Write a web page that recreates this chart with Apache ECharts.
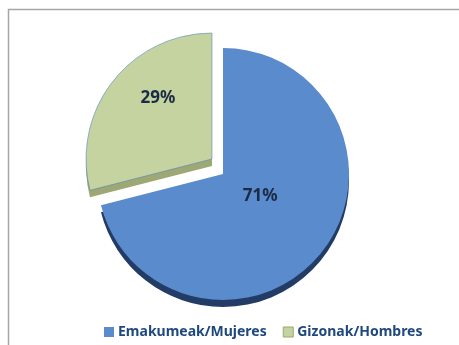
<!DOCTYPE html>
<html>
<head>
<meta charset="utf-8">
<script src="https://cdn.jsdelivr.net/npm/echarts@6/dist/echarts.min.js"></script>
<style>
  html, body { margin: 0; padding: 0; background: #ffffff; }
  #chart { width: 459px; height: 345px; }
</style>
</head>
<body>
<div id="chart"></div>
<script>
// Share of people by sex (percent)
const categories = ['Emakumeak/Mujeres', 'Gizonak/Hombres'];
const shares = [71, 29];
const topColors = ['#5a8bcc', '#c4d39f'];
const sideColors = ['#223c66', '#9ea874'];

const chart = echarts.init(document.getElementById('chart'), null, { renderer: 'canvas' });

// Each slice is drawn by its own layer so the pulled-out slice can sit on its own centre.
const pieCenter = [223, 174];
const pullOut = [[0, 0], [-11, -15]];
const depth = 7;
const R = 126;
const labelShift = [{ dx: -15, dy: -18 }, { dx: -2, dy: -20 }];

function sliceLayer(idx, colors, dy, z, withLabel) {
  return {
    type: 'pie',
    z: z,
    silent: true,
    center: [pieCenter[0] + pullOut[idx][0], pieCenter[1] + pullOut[idx][1] + dy],
    radius: R,
    startAngle: 90,
    clockwise: true,
    selectedMode: false,
    emphasis: { disabled: true },
    label: {
      show: withLabel,
      position: 'inside',
      formatter: (p) => p.value + '%',
      fontFamily: 'Noto Sans',
      fontWeight: 'bold',
      fontSize: 17,
      color: '#1d2a45'
    },
    labelLine: { show: false },
    labelLayout: withLabel ? (p) => labelShift[p.dataIndex] : undefined,
    data: categories.map((name, i) => ({
      name: name,
      value: shares[i],
      label: { show: withLabel && i === idx },
      itemStyle: i === idx
        ? {
            color: colors[i],
            borderColor: withLabel && i === 1 ? 'rgba(79,129,189,0.7)' : colors[i],
            borderWidth: withLabel && i === 1 ? 0.8 : 0
          }
        : { color: 'rgba(0,0,0,0)', borderWidth: 0 }
    }))
  };
}

chart.setOption({
  animation: false,
  backgroundColor: '#ffffff',
  graphic: [{
    type: 'rect',
    shape: { x: 8.5, y: 9.5, width: 600, height: 500 },
    style: { fill: 'none', stroke: '#a6a6a6', lineWidth: 1.5 },
    silent: true, z: 0
  }],
  legend: {
    top: 320,
    left: 99,
    itemWidth: 10,
    itemHeight: 10,
    itemGap: 16,
    icon: 'rect',
    data: [
      { name: categories[0], itemStyle: { color: topColors[0], borderWidth: 0 } },
      { name: categories[1], itemStyle: { color: topColors[1], borderColor: '#98ab6a', borderWidth: 1 } }
    ],
    textStyle: {
      fontFamily: 'Noto Sans',
      fontWeight: 'bold',
      fontSize: 14,
      color: '#1f497d',
      padding: [0, 0, 0, -1]
    }
  },
  series: [
    sliceLayer(0, topColors, 0, 4, true),
    sliceLayer(1, topColors, 0, 4, true),
    sliceLayer(0, sideColors, depth, 2, false),
    sliceLayer(1, sideColors, depth, 2, false)
  ]
});
</script>
</body>
</html>
